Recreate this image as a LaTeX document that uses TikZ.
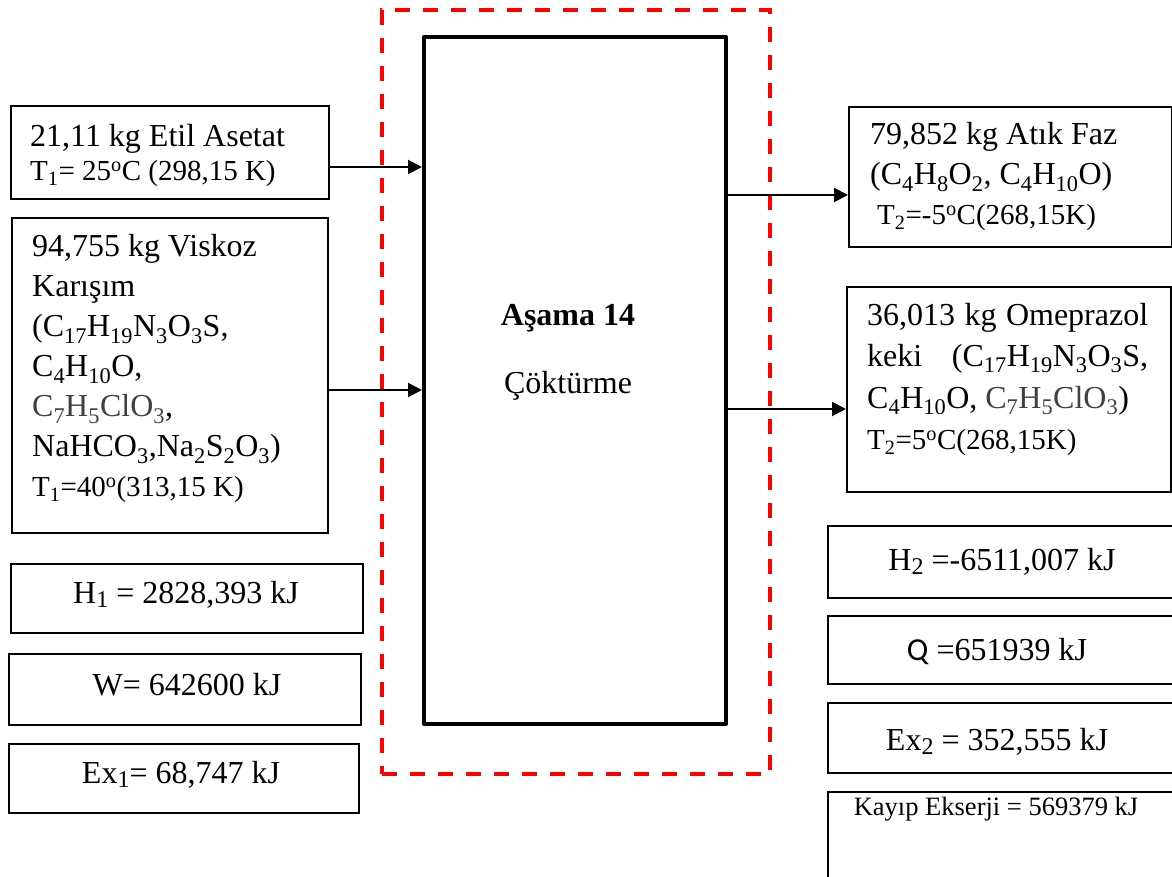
\documentclass[tikz,border=0pt]{standalone}
\usepackage{fontspec}
\setmainfont{Liberation Serif}
\newfontfamily\calibrifont{Carlito}
\usetikzlibrary{arrows.meta}
\definecolor{dimtext}{HTML}{404040}
% chemical subscripts and degree sign
\newcommand\sbs[1]{\textsubscript{#1}}
\newcommand\dg{\textsuperscript{o}}
% larger, lower subscript for the energy symbols
\newcommand\vsb[1]{\raisebox{-0.3ex}{\fontsize{24}{24}\selectfont #1}}
% slightly smaller type for temperature lines
\newcommand\tsm{\fontsize{29}{34}\selectfont}
\begin{document}
\begin{tikzpicture}[x=1pt,y=-1pt,
  box/.style={draw=black,line width=1.8pt,anchor=north west,inner sep=0pt},
  flow/.style={draw=black,line width=2pt,-{Triangle[length=14pt,width=14pt]}},
  txt/.style={inner sep=0pt,anchor=base west,font=\fontsize{32}{40}\selectfont},
  val/.style={inner sep=0pt,anchor=base,font=\fontsize{32}{40}\selectfont}]
\useasboundingbox (0,0) rectangle (1172,877);
\clip (0,0) rectangle (1172,877);

% control volume and process unit
\node[draw=red,line width=4pt,dash pattern=on 15pt off 13pt,anchor=north west,
      inner sep=0pt,minimum width=388pt,minimum height=764pt] (stage) at (380,8) {};
\node[draw=black,line width=4pt,line join=round,anchor=north west,inner sep=0pt,
      minimum width=302pt,minimum height=687pt] (main) at (422,35) {};
\node[inner sep=0pt,anchor=base,font=\fontsize{32}{40}\selectfont\bfseries] (title) at (568,325) {Aşama 14};
\node[val] (proc) at (568,393) {Çöktürme};

% inlet streams
\node[box,minimum width=318pt,minimum height=93pt] (inA) at (10,105) {};
\node[txt,font=\fontsize{32}{34}\selectfont] (inAt) at (30,147)
  {\parbox[t]{300pt}{21,11 kg Etil Asetat\\{\tsm T\sbs{1}= 25\dg C (298,15 K)}}};
\node[box,minimum width=316pt,minimum height=315pt] (inB) at (11,217) {};
\node[txt] (inBt) at (32,257)
  {\parbox[t]{290pt}{94,755 kg Viskoz\\Karışım\\(C\sbs{17}H\sbs{19}N\sbs{3}O\sbs{3}S,\\C\sbs{4}H\sbs{10}O,\\{\color{dimtext}C\sbs{7}H\sbs{5}ClO\sbs{3}},\\NaHCO\sbs{3},Na\sbs{2}S\sbs{2}O\sbs{3})\\{\tsm T\sbs{1}=40\dg(313,15 K)}}};

% inlet energy values
\node[box,minimum width=352pt,minimum height=69pt] (hIn) at (10,563) {};
\node[val] (hInt) at (186,603) {H\vsb{1} = 2828,393 kJ};
\node[box,minimum width=352pt,minimum height=71pt] (wIn) at (8,653) {};
\node[val] (wInt) at (187,695) {W= 642600 kJ};
\node[box,minimum width=350pt,minimum height=69pt] (exIn) at (8,743) {};
\node[val] (exInt) at (181,783) {Ex\vsb{1}= 68,747 kJ};

% outlet streams
\node[box,minimum width=323pt,minimum height=140pt] (outA) at (848,106) {};
\node[txt] (outAt) at (870,145)
  {\parbox[t]{290pt}{79,852 kg Atık Faz\\(C\sbs{4}H\sbs{8}O\sbs{2}, C\sbs{4}H\sbs{10}O)\\\hspace*{7pt}{\tsm T\sbs{2}=-5\dg C(268,15K)}}};
\node[box,minimum width=324pt,minimum height=205pt] (outB) at (846,286) {};
\node[txt,font=\fontsize{32}{41.5}\selectfont] (outBt) at (867,325)
  {\parbox[t]{281pt}{36,013\hfill kg\hfill Omeprazol\\keki\hfill(C\sbs{17}H\sbs{19}N\sbs{3}O\sbs{3}S,\\C\sbs{4}H\sbs{10}O, {\color{dimtext}C\sbs{7}H\sbs{5}ClO\sbs{3}})\\{\tsm T\sbs{2}=5\dg C(268,15K)}}};

% outlet energy values
\node[box,minimum width=360pt,minimum height=72pt] (hOut) at (827,525) {};
\node[val] (hOutt) at (1002,570) {H\vsb{2} =-6511,007 kJ};
\node[box,minimum width=360pt,minimum height=68pt] (qOut) at (827,615) {};
\node[val] (qOutt) at (997,660) {{\calibrifont Q} =651939 kJ};
\node[box,minimum width=360pt,minimum height=70pt] (exOut) at (827,702) {};
\node[val] (exOutt) at (997,750) {Ex\vsb{2} = 352,555 kJ};
\node[box,minimum width=360pt,minimum height=100pt] (lossOut) at (827,791) {};
\node[val,font=\fontsize{26.5}{30}\selectfont] (lossOutt) at (996,815) {Kayıp Ekserji = 569379 kJ};

% stream levels
\coordinate (y1) at (0,167);
\coordinate (y2) at (0,390);
\coordinate (y3) at (0,195);
\coordinate (y4) at (0,409);
\draw[flow] (inA.east |- y1) -- (main.west |- y1);
\draw[flow] (inB.east |- y2) -- (main.west |- y2);
\draw[flow] (main.east |- y3) -- (outA.west |- y3);
\draw[flow] (main.east |- y4) -- (outB.west |- y4);
\end{tikzpicture}
\end{document}
